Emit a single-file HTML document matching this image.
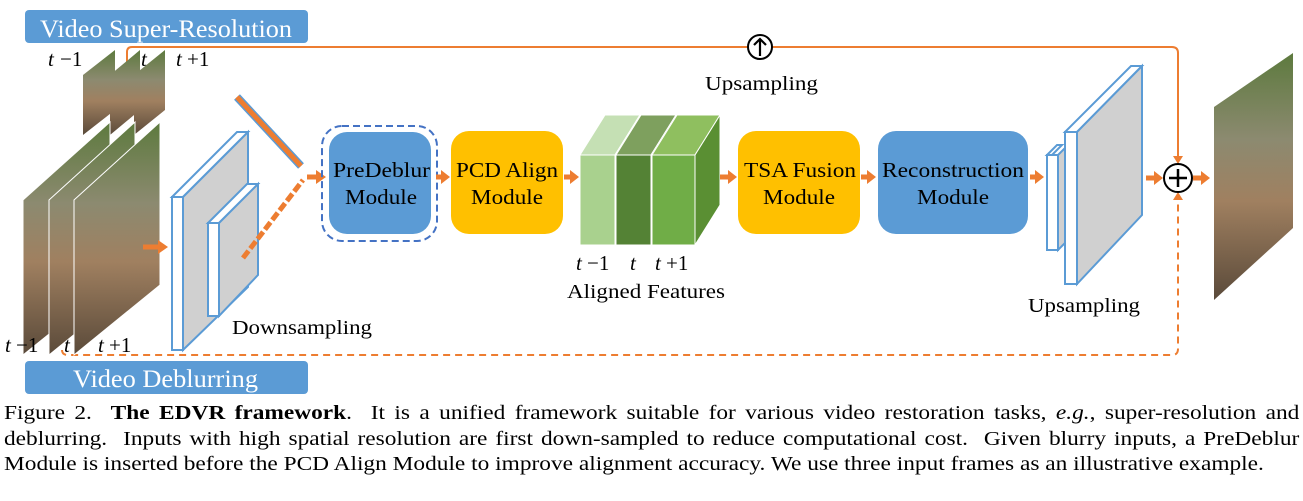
<!DOCTYPE html>
<html><head><style>
body{margin:0;background:#fff;width:1303px;height:501px;overflow:hidden}
svg text{font-family:"Liberation Serif",serif}
.cap{position:absolute;left:4px;width:1109px;font:20px/25px "Liberation Serif",serif;color:#000;white-space:nowrap;transform:scaleX(1.168);transform-origin:0 0}
.j{text-align:justify;text-align-last:justify}
</style></head><body>
<svg width="1303" height="400" style="position:absolute;left:0;top:0">
<defs>
<linearGradient id="img" x1="0" y1="0" x2="0" y2="1">
<stop offset="0" stop-color="#5d7a3e"/><stop offset="0.35" stop-color="#8c8a70"/><stop offset="0.6" stop-color="#a08060"/><stop offset="1" stop-color="#5a4a3a"/></linearGradient>
</defs>
<g lengthAdjust="spacingAndGlyphs">
<rect x="25" y="10" width="283" height="33" rx="4" fill="#5b9bd5"/>
<text x="40" y="37" font-size="25" fill="#fff" textLength="252" lengthAdjust="spacingAndGlyphs">Video Super-Resolution</text>
<rect x="25" y="361" width="283" height="33" rx="4" fill="#5b9bd5"/>
<text x="73" y="387" font-size="25" fill="#fff" textLength="185" lengthAdjust="spacingAndGlyphs">Video Deblurring</text>
<path d="M127,62 V52 Q127,47 132,47 H1172 Q1178,47 1178,53 V158" fill="none" stroke="#ed7d31" stroke-width="2"/>
<path d="M1173,156 L1178,164 L1183,156z" fill="#ed7d31"/>
<circle cx="760" cy="47" r="12" fill="#fff" stroke="#000" stroke-width="2"/>
<path d="M760,56 V39 M754,45 L760,39 L766,45" stroke="#000" stroke-width="2.2" fill="none"/>
<text x="705" y="90" font-size="20" textLength="113" lengthAdjust="spacingAndGlyphs">Upsampling</text>
<path d="M62,350 Q62,355 68,355 H1172 Q1178,355 1178,349 V198" fill="none" stroke="#ed7d31" stroke-width="2" stroke-dasharray="7,5"/>
<path d="M1173,200 L1178,192 L1183,200z" fill="#ed7d31"/>
<g fill="url(#img)"><polygon points="83,75 115,50 115,110 83,135"/><polygon points="110,75 140,50 140,110 110,135"/><polygon points="134,75 165,50 165,110 134,135"/></g>
<g fill="url(#img)" stroke="#fff" stroke-width="1"><polygon points="23,200 110,122 110,285 23,355"/><polygon points="49,200 135,122 135,285 49,355"/><polygon points="74,200 160,122 160,285 74,355"/></g>
<g font-size="21" font-style="italic"><text x="48" y="66">t</text><text x="60" y="66" font-style="normal">−1</text><text x="141" y="66">t</text><text x="176" y="66">t</text><text x="187" y="66" font-style="normal">+1</text>
<text x="5" y="352">t</text><text x="16" y="352" font-style="normal">−1</text><text x="64" y="352">t</text><text x="98" y="352">t</text><text x="109" y="352" font-style="normal">+1</text></g>
<path d="M143,247 H160" stroke="#ed7d31" stroke-width="5"/><path d="M158,240 L168,247 L158,254z" fill="#ed7d31"/>
<polygon points="172,197 237,132 248,132 183,197" fill="#fff" stroke="#5b9bd5" stroke-width="2"/>
<polygon points="183,197 248,132 248,287 183,350" fill="#d0d0d0" stroke="#5b9bd5" stroke-width="2"/>
<rect x="172" y="197" width="11" height="153" fill="#fff" stroke="#5b9bd5" stroke-width="2"/>
<polygon points="208,223 247,184 258,184 219,223" fill="#fff" stroke="#5b9bd5" stroke-width="2"/>
<polygon points="219,223 258,184 258,275 219,316" fill="#d0d0d0" stroke="#5b9bd5" stroke-width="2"/>
<rect x="208" y="223" width="11" height="93" fill="#fff" stroke="#5b9bd5" stroke-width="2"/>
<text x="232" y="334" font-size="20" textLength="140" lengthAdjust="spacingAndGlyphs">Downsampling</text>
<path d="M237,97 L301,166" stroke="#5b9bd5" stroke-width="8"/><path d="M237,97 L301,166" stroke="#ed7d31" stroke-width="5"/>
<path d="M243,258 L303,180" stroke="#ed7d31" stroke-width="5" stroke-dasharray="9,3"/>
<path d="M307,177 H318" stroke="#ed7d31" stroke-width="5"/><path d="M316,170 L326,177 L316,184z" fill="#ed7d31"/>
<rect x="322" y="126" width="115" height="115" rx="20" fill="none" stroke="#4472c4" stroke-width="2" stroke-dasharray="7,4"/>
<rect x="329" y="132" width="102" height="102" rx="18" fill="#5b9bd5"/>
<text x="333" y="177" font-size="21" textLength="97" lengthAdjust="spacingAndGlyphs">PreDeblur</text><text x="345" y="204" font-size="21" textLength="72" lengthAdjust="spacingAndGlyphs">Module</text>
<path d="M436,177 H443" stroke="#ed7d31" stroke-width="5"/><path d="M441,170 L450,177 L441,184z" fill="#ed7d31"/>
<rect x="451" y="131" width="112" height="103" rx="18" fill="#ffc000"/>
<text x="456" y="177" font-size="21" textLength="102" lengthAdjust="spacingAndGlyphs">PCD Align</text><text x="471" y="204" font-size="21" textLength="72" lengthAdjust="spacingAndGlyphs">Module</text>
<path d="M564,177 H572" stroke="#ed7d31" stroke-width="5"/><path d="M570,170 L579,177 L570,184z" fill="#ed7d31"/>
<g stroke="#fff" stroke-width="1">
<polygon points="580,155 605,115 640,115 615,155" fill="#c5e0b4"/><polygon points="615,155 640,115 640,205 615,245" fill="#8fbf6e"/><rect x="580" y="155" width="35" height="90" fill="#a9d18e"/>
<polygon points="616,155 641,115 676,115 651,155" fill="#7ea05e"/><polygon points="651,155 676,115 676,205 651,245" fill="#3e6a25"/><rect x="616" y="155" width="35" height="90" fill="#548235"/>
<polygon points="652,155 677,115 720,115 695,155" fill="#8fbf5f"/><polygon points="695,155 720,115 720,205 695,245" fill="#5a8f33"/><rect x="652" y="155" width="43" height="90" fill="#70ad47"/>
</g>
<g font-size="21" font-style="italic"><text x="576" y="270">t</text><text x="587" y="270" font-style="normal">−1</text><text x="630" y="270">t</text><text x="655" y="270">t</text><text x="666" y="270" font-style="normal">+1</text></g>
<text x="567" y="298" font-size="20" textLength="158" lengthAdjust="spacingAndGlyphs">Aligned Features</text>
<path d="M720,177 H730" stroke="#ed7d31" stroke-width="5"/><path d="M728,170 L737,177 L728,184z" fill="#ed7d31"/>
<rect x="738" y="131" width="122" height="103" rx="18" fill="#ffc000"/>
<text x="744" y="177" font-size="21" textLength="112" lengthAdjust="spacingAndGlyphs">TSA Fusion</text><text x="763" y="204" font-size="21" textLength="72" lengthAdjust="spacingAndGlyphs">Module</text>
<path d="M861,177 H869" stroke="#ed7d31" stroke-width="5"/><path d="M867,170 L876,177 L867,184z" fill="#ed7d31"/>
<rect x="878" y="131" width="150" height="103" rx="18" fill="#5b9bd5"/>
<text x="882" y="177" font-size="21" textLength="142" lengthAdjust="spacingAndGlyphs">Reconstruction</text><text x="917" y="204" font-size="21" textLength="72" lengthAdjust="spacingAndGlyphs">Module</text>
<path d="M1030,177 H1037" stroke="#ed7d31" stroke-width="5"/><path d="M1035,170 L1044,177 L1035,184z" fill="#ed7d31"/>
<polygon points="1047,155 1057,145 1062,145 1052,155" fill="#fff" stroke="#5b9bd5" stroke-width="2"/>
<polygon points="1058,155 1068,145 1068,240 1058,250" fill="#d0d0d0" stroke="#5b9bd5" stroke-width="2"/>
<rect x="1047" y="155" width="11" height="95" fill="#fff" stroke="#5b9bd5" stroke-width="2"/>
<polygon points="1065,132 1131,66 1142,66 1077,132" fill="#fff" stroke="#5b9bd5" stroke-width="2"/>
<polygon points="1077,132 1142,66 1142,215 1077,284" fill="#d0d0d0" stroke="#5b9bd5" stroke-width="2"/>
<rect x="1065" y="132" width="12" height="152" fill="#fff" stroke="#5b9bd5" stroke-width="2"/>
<text x="1028" y="312" font-size="20" textLength="112" lengthAdjust="spacingAndGlyphs">Upsampling</text>
<path d="M1146,178 H1156" stroke="#ed7d31" stroke-width="5"/><path d="M1154,171 L1163,178 L1154,185z" fill="#ed7d31"/>
<circle cx="1178" cy="178" r="14" fill="#fff" stroke="#000" stroke-width="2"/>
<path d="M1178,169 V187 M1169,178 H1187" stroke="#000" stroke-width="2.5"/>
<path d="M1193,178 H1203" stroke="#ed7d31" stroke-width="5"/><path d="M1201,171 L1210,178 L1201,185z" fill="#ed7d31"/>
<polygon points="1214,107 1293,53 1293,228 1214,300" fill="url(#img)"/>
</g>
</svg>
<div class="cap j" style="top:401px">Figure 2. &nbsp;<b>The EDVR framework</b>. &nbsp;It is a unified framework suitable for various video restoration tasks, <i>e.g.</i>, super-resolution and</div>
<div class="cap j" style="top:427px">deblurring. &nbsp;Inputs with high spatial resolution are first down-sampled to reduce computational cost. &nbsp;Given blurry inputs, a PreDeblur</div>
<div class="cap" style="top:452px">Module is inserted before the PCD Align Module to improve alignment accuracy. We use three input frames as an illustrative example.</div>
</body></html>
